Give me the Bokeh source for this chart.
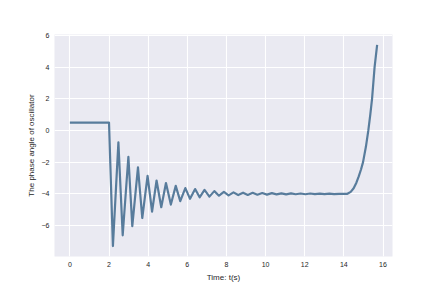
from bokeh.plotting import figure
from bokeh.models import Range1d, FixedTicker
from bokeh.embed import file_html
from bokeh.resources import INLINE

# time samples (s)
t = [0.0, 2.0, 2.2, 2.48, 2.70, 2.99, 3.19, 3.48, 3.70, 3.97, 4.20, 4.43, 4.67, 4.91,
     5.16, 5.41, 5.64, 5.90, 6.14, 6.40, 6.63, 6.88, 7.13, 7.38, 7.62, 7.87, 8.11,
     8.36, 8.60, 8.85, 9.09, 9.34, 9.58, 9.83, 10.07, 10.32, 10.56, 10.81, 11.05,
     11.30, 11.54, 11.79, 12.03, 12.28, 12.52, 12.77, 13.01, 13.26, 13.50, 13.75,
     14.0, 14.18, 14.35, 14.50, 14.64, 14.76, 14.88, 14.98, 15.13, 15.25, 15.35,
     15.44, 15.57, 15.70]
# phase angle values
phase = [0.5, 0.5, -7.30, -0.75, -6.62, -1.66, -6.04, -2.33, -5.53, -2.87, -5.13,
         -3.16, -4.85, -3.32, -4.68, -3.50, -4.46, -3.64, -4.32, -3.70, -4.22, -3.75,
         -4.18, -3.83, -4.12, -3.88, -4.10, -3.91, -4.08, -3.93, -4.07, -3.94, -4.06,
         -3.95, -4.05, -3.96, -4.04, -3.97, -4.04, -3.97, -4.03, -3.98, -4.03, -3.98,
         -4.02, -3.99, -4.02, -3.99, -4.02, -4.00, -4.01, -4.0, -3.88, -3.65, -3.30,
         -2.90, -2.45, -2.0, -1.0, 0.0, 1.0, 2.0, 4.0, 5.40]

x_ticks = [0, 2, 4, 6, 8, 10, 12, 14, 16]
y_ticks = [-6, -4, -2, 0, 2, 4, 6]

p = figure(width=420, height=284, output_backend="svg", toolbar_location=None,
           x_range=Range1d(-0.785, 16.485), y_range=Range1d(-7.96, 6.06),
           min_border_left=54, min_border_right=28, min_border_top=34,
           min_border_bottom=26)

p.background_fill_color = "#EAEAF2"
p.border_fill_color = "white"
p.outline_line_color = None

p.line(t, phase, line_color="#587C9C", line_width=2.2, line_join="round")

for ax in (p.xaxis[0], p.yaxis[0]):
    ax.axis_line_color = None
    ax.major_tick_line_color = None
    ax.minor_tick_line_color = None
    ax.major_tick_out = 0
    ax.major_tick_in = 0
    ax.major_label_text_font = "Liberation Sans"
    ax.major_label_text_font_size = "7px"
    ax.major_label_text_color = "#262626"
    ax.axis_label_text_font = "Liberation Sans"
    ax.axis_label_text_font_size = "8px"
    ax.axis_label_text_font_style = "normal"
    ax.axis_label_text_color = "#262626"
    ax.major_label_standoff = 5
    ax.axis_label_standoff = 3

p.xaxis[0].ticker = FixedTicker(ticks=x_ticks)
p.yaxis[0].ticker = FixedTicker(ticks=y_ticks)
p.xaxis[0].axis_label = "Time: t(s)"
p.yaxis[0].axis_label = "The phase angle of oscillator"

p.xgrid.grid_line_color = "white"
p.ygrid.grid_line_color = "white"
p.xgrid.grid_line_width = 1.1
p.ygrid.grid_line_width = 1.1

open("out.html", "w").write(file_html(p, INLINE))
